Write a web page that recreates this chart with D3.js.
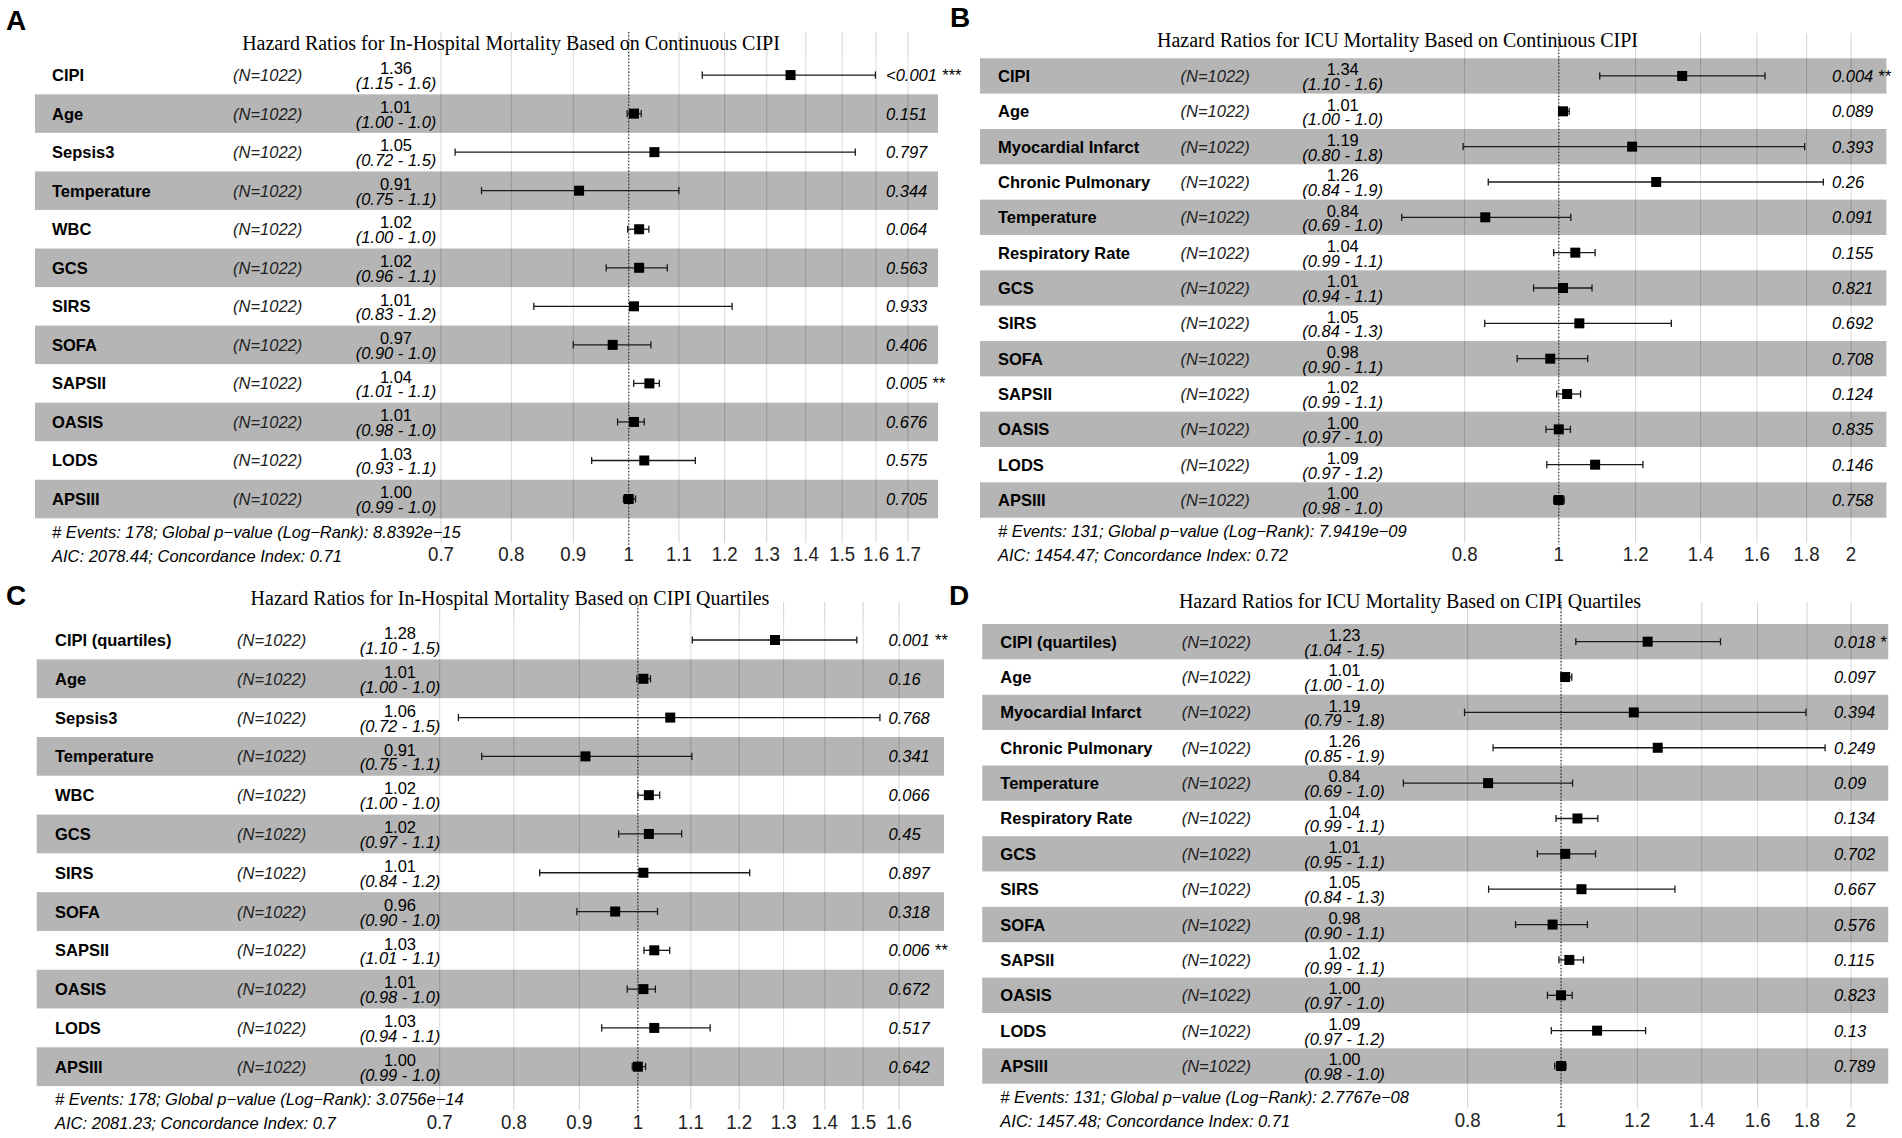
<!DOCTYPE html>
<html><head><meta charset="utf-8">
<script src="https://cdn.jsdelivr.net/npm/d3@7"></script>
<style>
html,body{margin:0;padding:0;background:#fff;}
svg{display:block;}
text{font-family:"Liberation Sans",Arial,sans-serif;fill:#000;}
</style></head>
<body>
<svg id="chart" width="1902" height="1138"></svg>
<script>
// ---------------- DATA ----------------
const titleA = "Hazard Ratios for In-Hospital Mortality Based on Continuous CIPI";
const varsA = ["CIPI","Age","Sepsis3","Temperature","WBC","GCS","SIRS","SOFA","SAPSII","OASIS","LODS","APSIII"];
const hrA = [1.36,1.01,1.05,0.91,1.02,1.02,1.01,0.97,1.04,1.01,1.03,1.00];
const loA = [1.150,0.997,0.719,0.756,0.998,0.958,0.835,0.900,1.0095,0.979,0.932,0.990];
const hiA = [1.598,1.024,1.538,1.100,1.039,1.076,1.217,1.043,1.060,1.030,1.135,1.013];
const ciA = ["(1.15 - 1.6)","(1.00 - 1.0)","(0.72 - 1.5)","(0.75 - 1.1)","(1.00 - 1.0)","(0.96 - 1.1)","(0.83 - 1.2)","(0.90 - 1.0)","(1.01 - 1.1)","(0.98 - 1.0)","(0.93 - 1.1)","(0.99 - 1.0)"];
const pA = ["<0.001 ***","0.151","0.797","0.344","0.064","0.563","0.933","0.406","0.005 **","0.676","0.575","0.705"];
const ticksA = [0.7,0.8,0.9,1,1.1,1.2,1.3,1.4,1.5,1.6,1.7];
const footA = ["# Events: 178; Global p\u2212value (Log\u2212Rank): 8.8392e\u221215","AIC: 2078.44; Concordance Index: 0.71"];

const titleB = "Hazard Ratios for ICU Mortality Based on Continuous CIPI";
const varsB = ["CIPI","Age","Myocardial Infarct","Chronic Pulmonary","Temperature","Respiratory Rate","GCS","SIRS","SOFA","SAPSII","OASIS","LODS","APSIII"];
const hrB = [1.34,1.01,1.19,1.26,0.84,1.04,1.01,1.05,0.98,1.02,1.00,1.09,1.00];
const loB = [1.102,1.000,0.797,0.846,0.689,0.988,0.942,0.839,0.906,0.995,0.970,0.972,0.988];
const hiB = [1.631,1.025,1.792,1.873,1.029,1.090,1.082,1.306,1.071,1.053,1.028,1.221,1.013];
const ciB = ["(1.10 - 1.6)","(1.00 - 1.0)","(0.80 - 1.8)","(0.84 - 1.9)","(0.69 - 1.0)","(0.99 - 1.1)","(0.94 - 1.1)","(0.84 - 1.3)","(0.90 - 1.1)","(0.99 - 1.1)","(0.97 - 1.0)","(0.97 - 1.2)","(0.98 - 1.0)"];
const pB = ["0.004 **","0.089","0.393","0.26","0.091","0.155","0.821","0.692","0.708","0.124","0.835","0.146","0.758"];
const ticksB = [0.8,1,1.2,1.4,1.6,1.8,2];
const footB = ["# Events: 131; Global p\u2212value (Log\u2212Rank): 7.9419e\u221209","AIC: 1454.47; Concordance Index: 0.72"];

const titleC = "Hazard Ratios for In-Hospital Mortality Based on CIPI Quartiles";
const varsC = ["CIPI (quartiles)","Age","Sepsis3","Temperature","WBC","GCS","SIRS","SOFA","SAPSII","OASIS","LODS","APSIII"];
const hrC = [1.28,1.01,1.06,0.91,1.02,1.02,1.01,0.96,1.03,1.01,1.03,1.00];
const loC = [1.103,0.998,0.724,0.755,1.000,0.966,0.838,0.896,1.011,0.981,0.937,0.990];
const hiC = [1.483,1.023,1.546,1.102,1.040,1.082,1.223,1.036,1.059,1.032,1.139,1.014];
const ciC = ["(1.10 - 1.5)","(1.00 - 1.0)","(0.72 - 1.5)","(0.75 - 1.1)","(1.00 - 1.0)","(0.97 - 1.1)","(0.84 - 1.2)","(0.90 - 1.0)","(1.01 - 1.1)","(0.98 - 1.0)","(0.94 - 1.1)","(0.99 - 1.0)"];
const pC = ["0.001 **","0.16","0.768","0.341","0.066","0.45","0.897","0.318","0.006 **","0.672","0.517","0.642"];
const ticksC = [0.7,0.8,0.9,1,1.1,1.2,1.3,1.4,1.5,1.6];
const footC = ["# Events: 178; Global p\u2212value (Log\u2212Rank): 3.0756e\u221214","AIC: 2081.23; Concordance Index: 0.7"];

const titleD = "Hazard Ratios for ICU Mortality Based on CIPI Quartiles";
const varsD = ["CIPI (quartiles)","Age","Myocardial Infarct","Chronic Pulmonary","Temperature","Respiratory Rate","GCS","SIRS","SOFA","SAPSII","OASIS","LODS","APSIII"];
const hrD = [1.23,1.01,1.19,1.26,0.84,1.04,1.01,1.05,0.98,1.02,1.00,1.09,1.00];
const loD = [1.036,1.000,0.794,0.850,0.686,0.988,0.945,0.841,0.897,0.995,0.968,0.977,0.985];
const hiD = [1.464,1.026,1.796,1.880,1.028,1.092,1.086,1.313,1.065,1.055,1.027,1.224,1.012];
const ciD = ["(1.04 - 1.5)","(1.00 - 1.0)","(0.79 - 1.8)","(0.85 - 1.9)","(0.69 - 1.0)","(0.99 - 1.1)","(0.95 - 1.1)","(0.84 - 1.3)","(0.90 - 1.1)","(0.99 - 1.1)","(0.97 - 1.0)","(0.97 - 1.2)","(0.98 - 1.0)"];
const pD = ["0.018 *","0.097","0.394","0.249","0.09","0.134","0.702","0.667","0.576","0.115","0.823","0.13","0.789"];
const ticksD = [0.8,1,1.2,1.4,1.6,1.8,2];
const footD = ["# Events: 131; Global p\u2212value (Log\u2212Rank): 2.7767e\u221208","AIC: 1457.48; Concordance Index: 0.71"];

const nLabel = "(N=1022)";

// ---------------- LAYOUT ----------------
const panels = [
  {tag:"A", tagX:6, tagY:20, title:titleA, titleX:511, titleY:43,
   vars:varsA, hr:hrA, lo:loA, hi:hiA, ci:ciA, p:pA, ticks:ticksA, foot:footA,
   dom:[0.7,1.7], rng:[441,908], band:[35,938], yr:[55.8,518.3], gTop:32, gBot:543,
   nameX:52, nX:233, hrX:396, pX:886, footX:52, footY:[532.3,555.7], tickY:554},
  {tag:"B", tagX:950, tagY:17.5, title:titleB, titleX:1397.5, titleY:40,
   vars:varsB, hr:hrB, lo:loB, hi:hiB, ci:ciB, p:pB, ticks:ticksB, foot:footB,
   dom:[0.8,2], rng:[1464.7,1851], band:[980,1886.4], yr:[58.3,517.7], gTop:33, gBot:543,
   nameX:998, nX:1180.5, hrX:1342.7, pX:1832, footX:998, footY:[530.7,555], tickY:553.3},
  {tag:"C", tagX:6, tagY:595, title:titleC, titleX:510, titleY:598.3,
   vars:varsC, hr:hrC, lo:loC, hi:hiC, ci:ciC, p:pC, ticks:ticksC, foot:footC,
   dom:[0.7,1.6], rng:[439.7,899], band:[36.7,944], yr:[620.6,1086.1], gTop:601.7, gBot:1110,
   nameX:55, nX:237, hrX:400, pX:888.5, footX:55, footY:[1099.3,1123.3], tickY:1121.7},
  {tag:"D", tagX:949, tagY:595, title:titleD, titleX:1410, titleY:600.7,
   vars:varsD, hr:hrD, lo:loD, hi:hiD, ci:ciD, p:pD, ticks:ticksD, foot:footD,
   dom:[0.8,2], rng:[1467.7,1851], band:[982.2,1888.2], yr:[624,1083.7], gTop:601.7, gBot:1108,
   nameX:1000.3, nX:1181.7, hrX:1344.5, pX:1834, footX:1000.3, footY:[1097.3,1120.7], tickY:1119.3}
];

const svg = d3.select("#chart");
svg.append("rect").attr("width",1902).attr("height",1138).attr("fill","#fff");

function drawPanel(P){
  const g = svg.append("g");
  const x = d3.scaleLog().domain(P.dom).range(P.rng);
  const y = d3.scaleBand().domain(P.vars).range(P.yr).padding(0);
  const yc = v => y(v) + y.bandwidth()/2;
  const n = P.vars.length;
  const rows = P.vars.map((v,i)=>({v, i, hr:P.hr[i], lo:P.lo[i], hi:P.hi[i], ci:P.ci[i], p:P.p[i]}));

  // grid lines
  g.append("g").selectAll("line").data(P.ticks).join("line")
    .attr("x1",d=>x(d)).attr("x2",d=>x(d))
    .attr("y1",P.gTop).attr("y2",P.gBot)
    .attr("stroke","#d2d2d2").attr("stroke-width",1);

  // bands
  g.append("g").selectAll("rect").data(rows).join("rect")
    .attr("x",P.band[0]).attr("width",P.band[1]-P.band[0])
    .attr("y",d=>y(d.v)).attr("height",y.bandwidth())
    .attr("fill",d=>((n-1-d.i)%2===0)?"rgba(0,0,0,0.29)":"rgba(255,255,255,0.2)");

  // reference dotted line at 1
  g.append("line").attr("x1",x(1)).attr("x2",x(1))
    .attr("y1",P.gTop).attr("y2",P.gBot+2)
    .attr("stroke","#222").attr("stroke-width",1.1).attr("stroke-dasharray","1.3,2");

  // title
  g.append("text").attr("x",P.titleX).attr("y",P.titleY)
    .attr("text-anchor","middle").attr("dominant-baseline","central")
    .style("font-family","'Liberation Serif','Times New Roman',serif").style("font-size","20px")
    .text(P.title);

  // tag letter
  g.append("text").attr("x",P.tagX).attr("y",P.tagY)
    .attr("dominant-baseline","central").style("font-weight","bold").style("font-size","28px")
    .text(P.tag);

  const r = g.append("g").selectAll("g").data(rows).join("g");
  // variable names
  r.append("text").attr("x",P.nameX).attr("y",d=>yc(d.v)).attr("dominant-baseline","central")
    .style("font-weight","bold").style("font-size","16.5px").text(d=>d.v);
  // N
  r.append("text").attr("x",P.nX).attr("y",d=>yc(d.v)).attr("dominant-baseline","central")
    .style("font-style","italic").style("font-size","16.5px").style("fill","#222").text(nLabel);
  // HR estimate
  r.append("text").attr("x",P.hrX).attr("y",d=>yc(d.v)-6.8).attr("text-anchor","middle")
    .attr("dominant-baseline","central").style("font-size","16.5px").text(d=>d.hr.toFixed(2));
  r.append("text").attr("x",P.hrX).attr("y",d=>yc(d.v)+8).attr("text-anchor","middle")
    .attr("dominant-baseline","central").style("font-style","italic").style("font-size","16.5px").text(d=>d.ci);
  // p-values
  r.append("text").attr("x",P.pX).attr("y",d=>yc(d.v)).attr("dominant-baseline","central")
    .style("font-style","italic").style("font-size","16.5px").text(d=>d.p);

  // error bars
  r.append("line").attr("x1",d=>x(d.lo)).attr("x2",d=>x(d.hi))
    .attr("y1",d=>yc(d.v)).attr("y2",d=>yc(d.v)).attr("stroke","#1a1a1a").attr("stroke-width",1.3);
  r.append("line").attr("x1",d=>x(d.lo)).attr("x2",d=>x(d.lo))
    .attr("y1",d=>yc(d.v)-3.6).attr("y2",d=>yc(d.v)+3.6).attr("stroke","#1a1a1a").attr("stroke-width",1.3);
  r.append("line").attr("x1",d=>x(d.hi)).attr("x2",d=>x(d.hi))
    .attr("y1",d=>yc(d.v)-3.6).attr("y2",d=>yc(d.v)+3.6).attr("stroke","#1a1a1a").attr("stroke-width",1.3);
  // point
  r.append("rect").attr("x",d=>x(d.hr)-5).attr("y",d=>yc(d.v)-5)
    .attr("width",10).attr("height",10).attr("fill","#000");

  // axis tick labels (slightly condensed, taller glyphs as in the reference)
  g.append("g").selectAll("text").data(P.ticks).join("text")
    .attr("transform",d=>`translate(${x(d)},${P.tickY}) scale(0.89,1)`)
    .attr("text-anchor","middle").attr("dominant-baseline","central")
    .style("font-size","21px").style("fill","#222").text(d=>d3.format("")(d));

  // footer
  g.append("g").selectAll("text").data(P.foot).join("text")
    .attr("x",P.footX).attr("y",(d,i)=>P.footY[i]).attr("dominant-baseline","central")
    .style("font-style","italic").style("font-size","16.5px").text(d=>d);
}
panels.forEach(drawPanel);
</script>
</body></html>
